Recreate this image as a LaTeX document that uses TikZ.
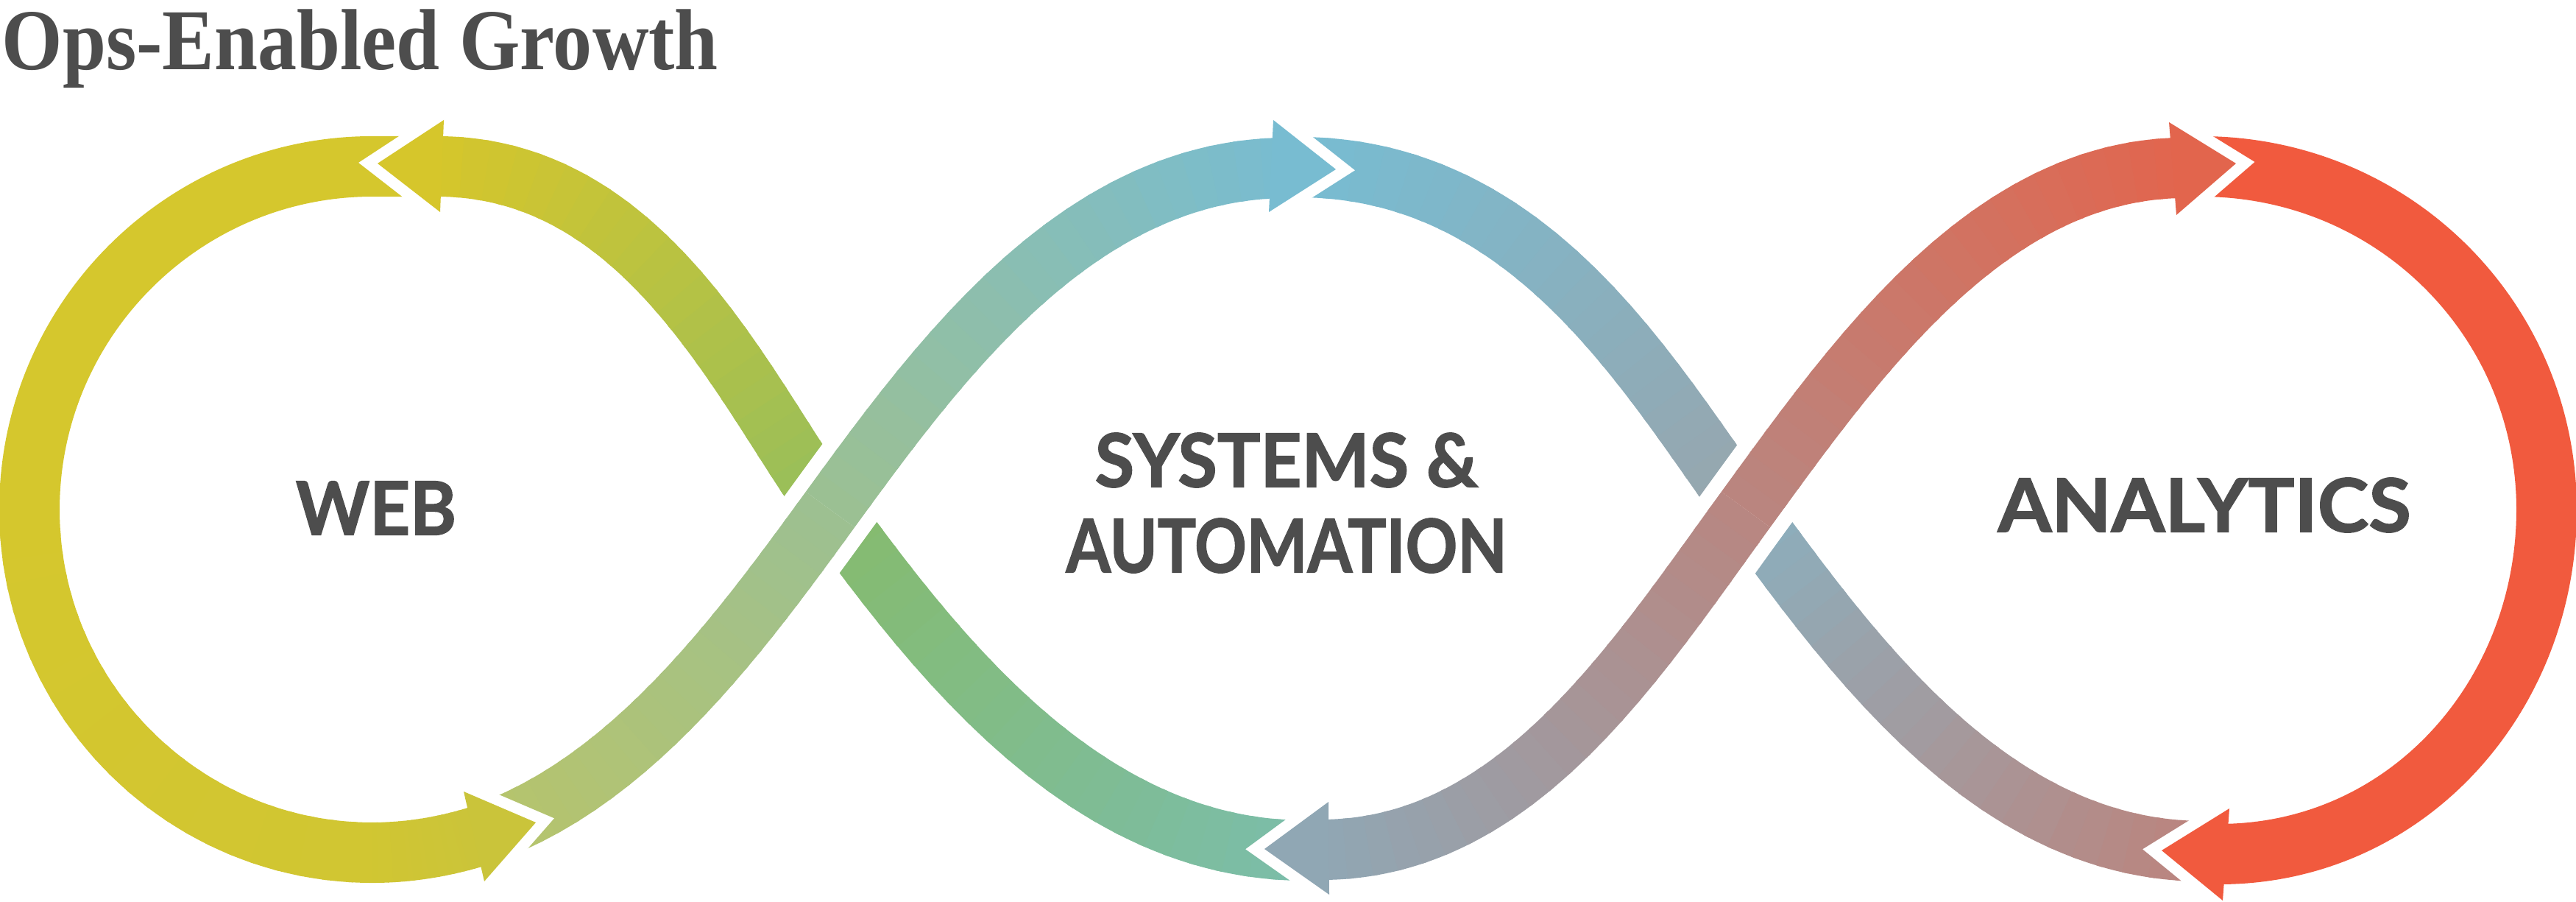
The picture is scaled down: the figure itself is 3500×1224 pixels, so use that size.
\documentclass[tikz,border=0pt]{standalone}
\usepackage{fontspec}
\usepackage{tikz}
\newfontfamily\titlefont{Liberation Serif}
\newfontfamily\lblfont{Lato}[BoldFeatures={FakeBold=1.5}]

\definecolor{inkgrey}{HTML}{4D4D4D}
\definecolor{webYellow}{HTML}{D5C72D}
\definecolor{webYellowEnd}{HTML}{CAC43A}
\definecolor{anaRed}{HTML}{F15A3E}
% band from web up to systems
\definecolor{gUpOne}{HTML}{B7C46B}
\definecolor{gUpTwo}{HTML}{9CC092}
\definecolor{gUpThree}{HTML}{78BCD1}
% band from systems back to web
\definecolor{gDnOne}{HTML}{7BBDAA}
\definecolor{gDnTwo}{HTML}{86BB6C}
\definecolor{gDnThree}{HTML}{95BE5D}
\definecolor{gDnFour}{HTML}{D6C62B}
% band from systems down to analytics
\definecolor{bDnOne}{HTML}{77BCD2}
\definecolor{bDnTwo}{HTML}{99A5AC}
\definecolor{bDnThree}{HTML}{8AB0BF}
\definecolor{bDnFour}{HTML}{BD837C}
% band from systems up to analytics
\definecolor{bUpOne}{HTML}{90A7B4}
\definecolor{bUpTwo}{HTML}{B98680}
\definecolor{bUpThree}{HTML}{E2654D}

\tikzset{
  band/.style={line width=0.82cm},
  overgap/.style={line width=1.22cm},
  gapline/.style={draw=white, line width=0.3cm, line join=miter},
  lbl/.style={font=\lblfont\bfseries\fontsize{28.6}{33}\selectfont, text=inkgrey, inner sep=0pt, align=center},
}

\newcommand\nseg{24}
% one Bezier piece of a band: colour #1 to #2, times #3 to #4, points #50..#53
\newcommand\bandpiece[5]{%
  \foreach \k in {1,...,\nseg}{%
    \pgfmathsetmacro\ta{#3+(#4-#3)*(\k-1)/\nseg}%
    \pgfmathsetmacro\tb{min(#4,#3+(#4-#3)*\k/\nseg+0.01)}%
    \pgfmathtruncatemacro\pct{100*(\k-0.5)/\nseg}%
    \colorlet{segc}{#2!\pct!#1}%
    \pgfsetstrokecolor{segc}%
    \pgfpathcurvebetweentime{\ta}{\tb}{\pgfpointanchor{#50}{center}}{\pgfpointanchor{#51}{center}}{\pgfpointanchor{#52}{center}}{\pgfpointanchor{#53}{center}}%
    \pgfusepath{stroke}%
  }%
}

\begin{document}
\begin{tikzpicture}[x=0.01cm, y=0.01cm]
    \useasboundingbox (0,0) rectangle (3500,1224);

    % control points of the four S bands
    \coordinate (gUpA0) at (506,66);   \coordinate (gUpA1) at (789,66);
    \coordinate (gUpA2) at (978,326);  \coordinate (gUpA3) at (1128,532);
    \coordinate (gUpB0) at (1128,532); \coordinate (gUpB1) at (1278,738);
    \coordinate (gUpB2) at (1467,996); \coordinate (gUpB3) at (1750,996);

    \coordinate (gDnA0) at (1775,69);  \coordinate (gDnA1) at (1480,68);
    \coordinate (gDnA2) at (1278,326); \coordinate (gDnA3) at (1128,532);
    \coordinate (gDnB0) at (1128,532); \coordinate (gDnB1) at (1010,694);
    \coordinate (gDnB2) at (880,999);  \coordinate (gDnB3) at (592,998);

    \coordinate (bDnA0) at (1760,997); \coordinate (bDnA1) at (2080,999);
    \coordinate (bDnA2) at (2240,712); \coordinate (bDnA3) at (2372,532);
    \coordinate (bDnB0) at (2372,532); \coordinate (bDnB1) at (2522,326);
    \coordinate (bDnB2) at (2711,68);  \coordinate (bDnB3) at (2994,68);

    \coordinate (bUpA0) at (1795,70);  \coordinate (bUpA1) at (2060,70);
    \coordinate (bUpA2) at (2222,326); \coordinate (bUpA3) at (2372,532);
    \coordinate (bUpB0) at (2372,532); \coordinate (bUpB1) at (2522,738);
    \coordinate (bUpB2) at (2700,991); \coordinate (bUpB3) at (2962,996);

    % lower left quarter of the web loop and its end
    \coordinate (webA0) at (40,532);   \coordinate (webA1) at (40,275);
    \coordinate (webA2) at (249,66);   \coordinate (webA3) at (506,66);
    \coordinate (webB0) at (506,66);   \coordinate (webB1) at (558,66);
    \coordinate (webB2) at (609,75);   \coordinate (webB3) at (658,91);

    % bands passing underneath
    \begin{scope}[band]
        \bandpiece{gDnOne}{gDnTwo}{0}{1}{gDnA}
        \bandpiece{gDnThree}{gDnFour}{0}{1}{gDnB}
        \bandpiece{bDnOne}{bDnTwo}{0}{1}{bDnA}
        \bandpiece{bDnThree}{bDnFour}{0}{1}{bDnB}
    \end{scope}

    % white gaps at the crossings
    \begin{scope}[overgap]
        \pgfsetstrokecolor{white}
        \pgfpathcurvebetweentime{0.7}{1}{\pgfpointanchor{gUpA0}{center}}{\pgfpointanchor{gUpA1}{center}}{\pgfpointanchor{gUpA2}{center}}{\pgfpointanchor{gUpA3}{center}}
        \pgfpathcurvebetweentimecontinue{0}{0.3}{\pgfpointanchor{gUpB0}{center}}{\pgfpointanchor{gUpB1}{center}}{\pgfpointanchor{gUpB2}{center}}{\pgfpointanchor{gUpB3}{center}}
        \pgfusepath{stroke}
        \pgfpathcurvebetweentime{0.7}{1}{\pgfpointanchor{bUpA0}{center}}{\pgfpointanchor{bUpA1}{center}}{\pgfpointanchor{bUpA2}{center}}{\pgfpointanchor{bUpA3}{center}}
        \pgfpathcurvebetweentimecontinue{0}{0.3}{\pgfpointanchor{bUpB0}{center}}{\pgfpointanchor{bUpB1}{center}}{\pgfpointanchor{bUpB2}{center}}{\pgfpointanchor{bUpB3}{center}}
        \pgfusepath{stroke}
    \end{scope}

    % bands on top
    \begin{scope}[band]
        \bandpiece{gUpOne}{gUpTwo}{0.2}{1}{gUpA}
        \bandpiece{gUpTwo}{gUpThree}{0}{1}{gUpB}
        \bandpiece{bUpOne}{bUpTwo}{0}{1}{bUpA}
        \bandpiece{bUpTwo}{bUpThree}{0}{1}{bUpB}
    \end{scope}

    % the two end loops
    \draw[band, webYellow] (580,998) -- (506,998) .. controls (249,998) and (40,789) .. (40,532);
    \begin{scope}[band]
        \bandpiece{webYellow}{webYellow!60!webYellowEnd}{0}{1}{webA}
        \bandpiece{webYellow!60!webYellowEnd}{webYellowEnd}{0}{1}{webB}
    \end{scope}
    \draw[band, anaRed] (2990,998) .. controls (3253,998) and (3460,789) .. (3460,532)
        .. controls (3460,278) and (3270,64) .. (3015,64);

    % arrow heads, each cut into the band that follows it
    \draw[gapline] (603,1061) -- (513,1002) -- (598,936);
    \fill[gDnFour] (603,1061) -- (513,1002) -- (598,936) -- cycle;
    \draw[gapline] (630,149) -- (728,107) -- (658,27);
    \fill[webYellowEnd] (630,149) -- (728,107) -- (658,27) -- cycle;
    \draw[gapline] (1730,1061) -- (1815,994) -- (1724,936);
    \fill[gUpThree] (1730,1061) -- (1815,994) -- (1724,936) -- cycle;
    \draw[gapline] (1805,135) -- (1718,71) -- (1806,9);
    \fill[bUpOne] (1805,135) -- (1718,71) -- (1806,9) -- cycle;
    \draw[gapline] (2947,1058) -- (3038,1002) -- (2957,932);
    \fill[bUpThree] (2947,1058) -- (3038,1002) -- (2957,932) -- cycle;
    \draw[gapline] (3029,126) -- (2937,69) -- (3020,1);
    \fill[anaRed] (3029,126) -- (2937,69) -- (3020,1) -- cycle;

    % labels
    \node[anchor=base west, inner sep=0pt, text=inkgrey, font=\titlefont\bfseries\fontsize{33.5}{40}\selectfont] (title) at (2,1129) {\scalebox{0.9}[1]{Ops-Enabled Growth}};
    \node[lbl] (web) at (511,534) {\scalebox{0.95}[1]{WEB}};
    \node[lbl] (sysauto) at (1748,541) {\scalebox{0.97}[1]{SYSTEMS \&}\\\scalebox{0.87}[1]{AUTOMATION}};
    \node[lbl] (analytics) at (2995,538) {\scalebox{1.045}[1]{ANALYTICS}};
\end{tikzpicture}
\end{document}
